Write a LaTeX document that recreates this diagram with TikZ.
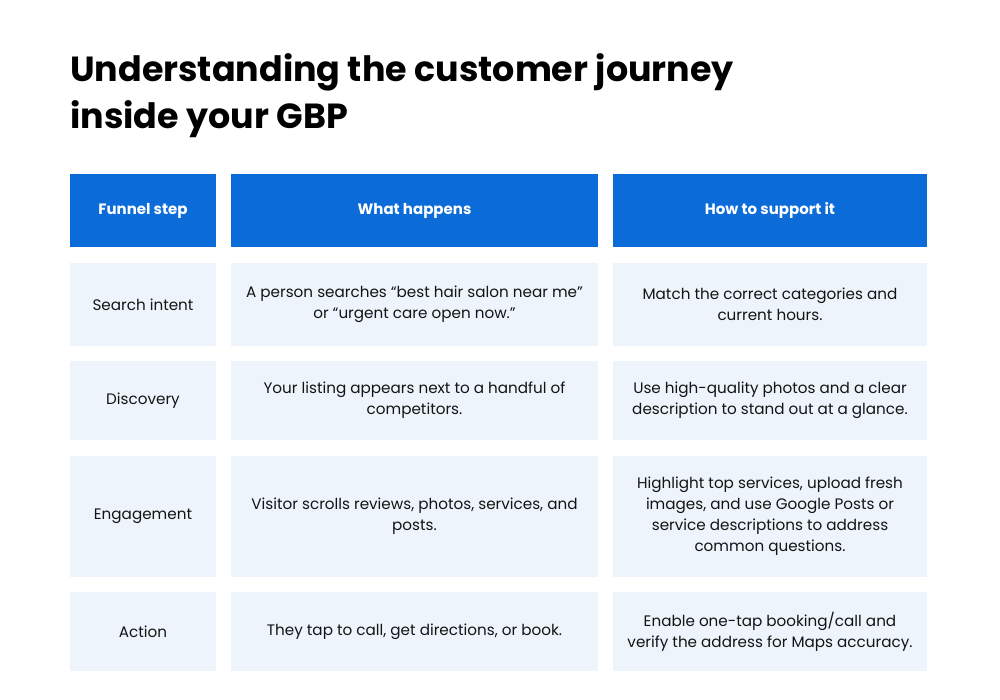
\documentclass[tikz,border=0pt]{standalone}
\usepackage{fontspec}
\setmainfont{Poppins}
\definecolor{headblue}{HTML}{0B6BD8}
\definecolor{cellbg}{HTML}{EDF4FB}
\definecolor{inkblack}{HTML}{141414}
\tikzset{
  head/.style={fill=headblue,text=white,inner sep=0pt,align=center,
    font=\fontsize{15}{21}\selectfont\bfseries},
  cell/.style={fill=cellbg,text=inkblack,inner sep=0pt,align=center,
    font=\fontsize{15.2}{21}\selectfont},
}
\begin{document}
\begin{tikzpicture}[x=1pt,y=-1pt]
  \useasboundingbox[fill=white] (0,0) rectangle (1000,700);
  % title
  \node[anchor=base west,inner sep=0pt,align=left,text=black,
    font=\fontsize{34.9}{47}\selectfont\bfseries] (title) at (70,129)
    {Understanding the customer journey\\inside your GBP};
  % header row
  \node[head,minimum width=146pt,minimum height=73pt] (hstep) at (143,210.5) {Funnel step};
  \node[head,minimum width=367pt,minimum height=73pt] (hwhat) at (414.5,210.5) {What happens};
  \node[head,minimum width=314pt,minimum height=73pt] (hhow)  at (770,210.5) {How to support it};
  % row 1
  \node[cell,minimum width=146pt,minimum height=83pt] (step1) at (143,304.5) {Search intent};
  \node[cell,minimum width=367pt,minimum height=83pt] (what1) at (414.5,304.5)
    {A person searches “best hair salon near me”\\or “urgent care open now.”};
  \node[cell,minimum width=314pt,minimum height=83pt] (how1)  at (770,304.5)
    {Match the correct categories and\\current hours.};
  % row 2
  \node[cell,minimum width=146pt,minimum height=79pt] (step2) at (143,400.5) {Discovery};
  \node[cell,minimum width=367pt,minimum height=79pt] (what2) at (414.5,400.5)
    {Your listing appears next to a handful of\\competitors.};
  \node[cell,minimum width=314pt,minimum height=79pt] (how2)  at (770,400.5)
    {Use high-quality photos and a clear\\description to stand out at a glance.};
  % row 3
  \node[cell,minimum width=146pt,minimum height=121pt] (step3) at (143,516.5) {Engagement};
  \node[cell,minimum width=367pt,minimum height=121pt] (what3) at (414.5,516.5)
    {Visitor scrolls reviews, photos, services, and\\posts.};
  \node[cell,minimum width=314pt,minimum height=121pt] (how3)  at (770,516.5)
    {Highlight top services, upload fresh\\images, and use Google Posts or\\service descriptions to address\\common questions.};
  % row 4
  \node[cell,minimum width=146pt,minimum height=79pt] (step4) at (143,631.5) {Action};
  \node[cell,minimum width=367pt,minimum height=79pt] (what4) at (414.5,631.5)
    {They tap to call, get directions, or book.};
  \node[cell,minimum width=314pt,minimum height=79pt] (how4)  at (770,631.5)
    {Enable one-tap booking/call and\\verify the address for Maps accuracy.};
\end{tikzpicture}
\end{document}
